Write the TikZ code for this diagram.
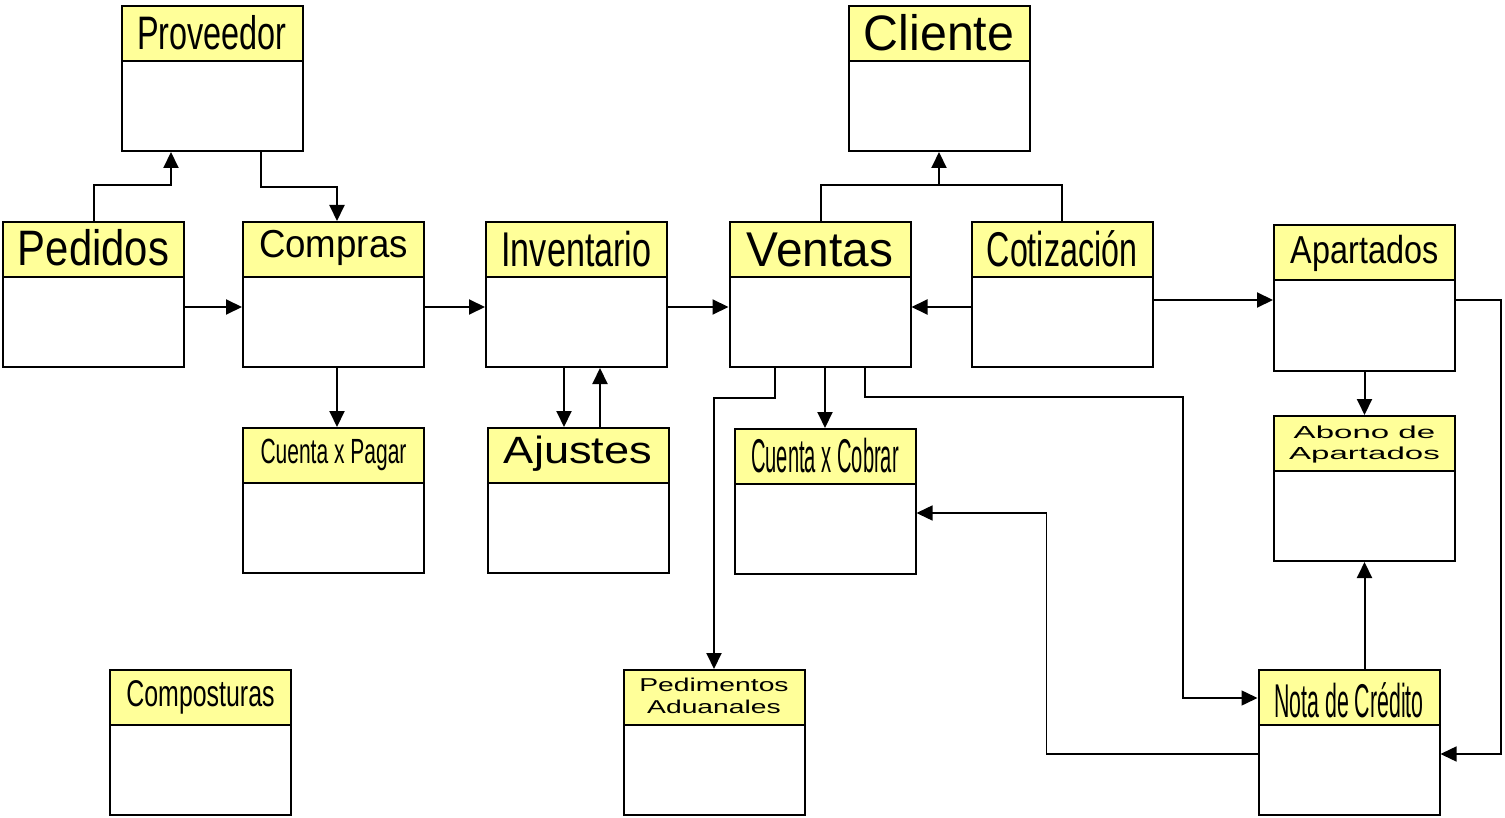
\documentclass[tikz,border=0pt]{standalone}
\usepackage{fontspec}
\setmainfont{Liberation Sans}
\usetikzlibrary{arrows.meta,calc,positioning}
\definecolor{hdyellow}{RGB}{255,255,153}
\newcommand{\rotulo}[3]{\scalebox{#2}[1]{\fontsize{#1}{#1}\selectfont #3}}
\newcommand{\dosrot}[4]{\scalebox{#2}[1]{\fontsize{#1}{#4}\selectfont\begin{tabular}[b]{@{}c@{}}#3\end{tabular}}}

\begin{document}
\begin{tikzpicture}[x=0.5pt,y=-0.5pt,
  box/.style={draw,line width=1pt,fill=white,minimum width=90.5pt,minimum height=72.5pt,inner sep=0pt},
  head/.style={draw,line width=1pt,fill=hdyellow,minimum width=90.5pt,minimum height=27.5pt,inner sep=0pt,anchor=north},
  lbl/.style={anchor=base,inner sep=0pt},
  arr/.style={line width=1pt,-{Triangle[length=8pt,width=7.5pt]}},
  fina/.style={line width=0.75pt}]
\useasboundingbox (0,0) rectangle (1505,818);
% cajas
\node[box] (prov) at (212,78.5) {};
\node[head] (prov-h) at (prov.north) {};
\node[lbl] (prov-t) at ($(prov.north)+(0,45)$) {\rotulo{23.5}{0.69}{Proveedor}};
\node[box] (cli) at (939,78.5) {};
\node[head] (cli-h) at (cli.north) {};
\node[lbl] (cli-t) at ($(cli.north)+(0,45.5)$) {\rotulo{24.9}{0.97}{Cliente}};
\node[box] (ped) at (93.5,294.5) {};
\node[head] (ped-h) at (ped.north) {};
\node[lbl] (ped-t) at ($(ped.north)+(0,44.5)$) {\rotulo{24.9}{0.84}{Pedidos}};
\node[box] (comp) at (333.5,294.5) {};
\node[head] (comp-h) at (comp.north) {};
\node[lbl] (comp-t) at ($(comp.north)+(0,37)$) {\rotulo{19.5}{0.94}{Compras}};
\node[box] (inv) at (576.5,294.5) {};
\node[head] (inv-h) at (inv.north) {};
\node[lbl] (inv-t) at ($(inv.north)+(0,45.5)$) {\rotulo{24.4}{0.70}{Inventario}};
\node[box] (vent) at (820,294.5) {};
\node[head] (vent-h) at (vent.north) {};
\node[lbl] (vent-t) at ($(vent.north)+(0,45.5)$) {\rotulo{24.4}{0.98}{Ventas}};
\node[box] (coti) at (1062,294.5) {};
\node[head] (coti-h) at (coti.north) {};
\node[lbl] (coti-t) at ($(coti.north)+(0,45.5)$) {\rotulo{24.4}{0.66}{Cotización}};
\node[box] (apar) at (1364.5,298) {};
\node[head] (apar-h) at (apar.north) {};
\node[lbl] (apar-t) at ($(apar.north)+(0,39)$) {\rotulo{19.5}{0.83}{Apartados}};
\node[box] (cxp) at (333.5,500.5) {};
\node[head] (cxp-h) at (cxp.north) {};
\node[lbl] (cxp-t) at ($(cxp.north)+(0,36.5)$) {\rotulo{17.5}{0.60}{Cuenta x Pagar}};
\node[box] (ajus) at (578,500.5) {};
\node[head] (ajus-h) at (ajus.north) {};
\node[lbl] (ajus-t) at ($(ajus.north)+(0,36.5)$) {\rotulo{19}{1.19}{Ajustes}};
\node[box] (cxc) at (825,501.5) {};
\node[head] (cxc-h) at (cxc.north) {};
\node[lbl] (cxc-t) at ($(cxc.north)+(0,44)$) {\rotulo{23.7}{0.425}{Cuenta x Cobrar}};
\node[box] (abono) at (1364.5,488.5) {};
\node[head] (abono-h) at (abono.north) {};
\node[lbl] (abono-t) at ($(abono.north)+(0,44)$) {\dosrot{8.7}{1.9}{Abono de\\Apartados}{10.25}};
\node[box] (compo) at (200.5,742.5) {};
\node[head] (compo-h) at (compo.north) {};
\node[lbl] (compo-t) at ($(compo.north)+(0,37)$) {\rotulo{18.6}{0.67}{Composturas}};
\node[box] (pedim) at (714,742.5) {};
\node[head] (pedim-h) at (pedim.north) {};
\node[lbl] (pedim-t) at ($(pedim.north)+(0,44.5)$) {\dosrot{9.3}{1.52}{Pedimentos\\Aduanales}{11}};
\node[box] (nota) at (1349,742.5) {};
\node[head] (nota-h) at (nota.north) {};
\node[lbl] (nota-t) at ($(nota.north)+(0,48)$) {\rotulo{23.7}{0.45}{Nota de Crédito}};
% flechas de compras
\draw[arr] (ped.north) -- ++(0,-36) -| ($(prov.south)+(-41,0)$);
\draw[arr] ($(prov.south)+(49,0)$) -- ++(0,35) -| ($(comp.north)+(3.5,0)$);
\draw[arr] ($(ped.east)+(0,12.5)$) -- ($(comp.west)+(0,12.5)$);
\draw[arr] ($(comp.east)+(0,12.5)$) -- ($(inv.west)+(0,12.5)$);
\draw[arr] ($(inv.east)+(0,12.5)$) -- ($(vent.west)+(0,12.5)$);
\draw[arr] ($(comp.south)+(3.5,0)$) -- ($(cxp.north)+(3.5,0)$);
\draw[arr] ($(inv.south)+(-12.5,0)$) -- ($(ajus.north)+(-14,0)$);
\draw[arr] ($(ajus.north)+(22,0)$) -- ($(inv.south)+(23.5,0)$);
% ventas y cliente
\coordinate (bus) at ($(vent.north)+(0,-36)$);
\draw[fina] ($(vent.north)+(1,0)$) -- ++(0,-36) -| (coti.north);
\draw[arr] (bus -| cli.south) -- (cli.south);
\draw[arr] ($(coti.west)+(0,12.5)$) -- ($(vent.east)+(0,12.5)$);
\draw[arr] ($(coti.east)+(0,5.5)$) -- ($(apar.west)+(0,2)$);
\draw[arr] ($(vent.south)+(-45,0)$) -- ++(0,30) -| (pedim.north);
\draw[arr] ($(vent.south)+(5,0)$) -- (cxc.north);
\draw[arr,fina] ($(vent.south)+(45,0)$) -- ++(0,29) -- ++(318,0) |- ($(nota.west)+(0,-44.5)$);
% apartados y nota de credito
\draw[arr] (apar.south) -- (abono.north);
\draw[arr] (nota.north -| abono.south) -- (abono.south);
\draw[arr,fina] ($(apar.east)+(0,2)$) -- ++(45,0) |- ($(nota.east)+(0,11.5)$);
\draw[arr,fina] ($(nota.west)+(0,11.5)$) -- ++(-211,0) |- ($(cxc.east)+(0,11.5)$);
\end{tikzpicture}
\end{document}
